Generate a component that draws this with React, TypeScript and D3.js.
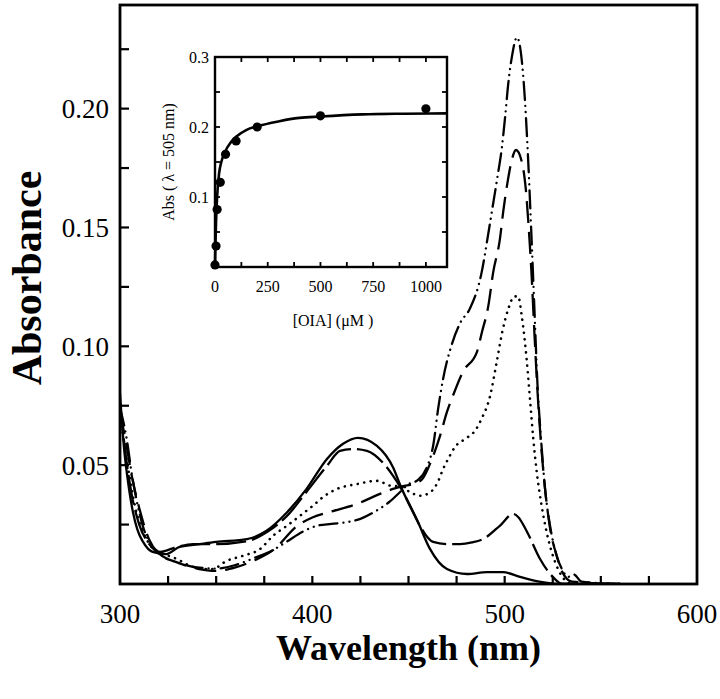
import React from 'react';
import * as d3 from 'd3';

// ---------- Main spectra (wavelength nm, absorbance) ----------
const wlSolid = [300, 302, 304, 306.8, 309, 312, 317, 324, 331, 341.6, 350, 366, 376, 387, 397, 407.6, 416, 423.7, 433.6, 442, 446, 450, 454.4, 461, 470, 480.4, 490.8, 499, 508, 518, 529, 560];
const absSolid = [0.080, 0.058, 0.044, 0.030, 0.023, 0.0177, 0.0135, 0.0126, 0.0156, 0.0168, 0.0177, 0.0189, 0.0223, 0.0303, 0.040, 0.0526, 0.059, 0.0615, 0.0581, 0.049, 0.041, 0.034, 0.027, 0.015, 0.0063, 0.0042, 0.005, 0.005, 0.003, 0.001, 0, 0];

const wlLongDash = [300, 303, 306, 310, 315, 320.8, 329.6, 338, 350, 366, 376.4, 386.8, 397.2, 407.6, 414.4, 421.2, 428.4, 436.7, 442, 445.6, 450.8, 456, 462.8, 470, 476.8, 483, 489, 497.6, 504.4, 507, 511.6, 518.4, 525, 530, 560];
const absLongDash = [0.076, 0.054, 0.038, 0.025, 0.017, 0.0135, 0.0156, 0.0168, 0.0168, 0.018, 0.0219, 0.0286, 0.039, 0.0497, 0.056, 0.0568, 0.056, 0.051, 0.0455, 0.041, 0.033, 0.0244, 0.0177, 0.0168, 0.0168, 0.0175, 0.019, 0.0246, 0.0295, 0.0282, 0.022, 0.0105, 0.003, 0, 0];

const wlDotted = [300, 302, 305, 308, 312, 316, 320.8, 329.6, 336.4, 342, 348, 355.6, 364, 372.8, 379.6, 386.8, 393.6, 400.4, 405.6, 412.8, 423, 433.6, 440.4, 445.6, 450.8, 456, 462.2, 465.5, 468, 470.6, 474.2, 479.4, 484.6, 488, 492.4, 496, 499, 502, 505, 507, 509, 511.5, 513.2, 514.9, 516.7, 519.2, 521.9, 526.2, 530, 535, 560];
const absDotted = [0.072, 0.06, 0.045, 0.032, 0.022, 0.016, 0.0134, 0.0105, 0.0077, 0.0063, 0.0063, 0.0098, 0.0119, 0.0147, 0.0203, 0.0245, 0.0287, 0.033, 0.0366, 0.040, 0.042, 0.0434, 0.0414, 0.041, 0.0387, 0.0371, 0.0392, 0.0434, 0.0484, 0.0526, 0.0577, 0.061, 0.0645, 0.0695, 0.079, 0.094, 0.107, 0.116, 0.121, 0.121, 0.112, 0.094, 0.0775, 0.061, 0.047, 0.033, 0.0215, 0.0093, 0.003, 0, 0];

const wlDash = [300, 303, 306, 310, 315, 320, 330, 340, 350, 360, 370, 380, 392, 400, 410.7, 423.2, 435.2, 442, 446, 452, 457, 462.2, 466.4, 470, 473, 478.3, 485.6, 488.2, 491.5, 494, 497.5, 499.3, 501.9, 503.6, 505.9, 508.8, 511, 512.5, 514, 515.5, 517, 519, 521, 523.5, 527, 530, 535, 560];
const absDash = [0.072, 0.06, 0.046, 0.032, 0.019, 0.013, 0.009, 0.0065, 0.0055, 0.007, 0.010, 0.0145, 0.0244, 0.028, 0.0307, 0.0337, 0.0379, 0.040, 0.041, 0.042, 0.044, 0.0526, 0.0623, 0.0724, 0.079, 0.0893, 0.0977, 0.106, 0.117, 0.131, 0.145, 0.157, 0.171, 0.178, 0.1826, 0.178, 0.166, 0.15, 0.13, 0.105, 0.082, 0.058, 0.04, 0.024, 0.012, 0.005, 0.001, 0];

const wlDashDotDot = [300, 303.5, 306, 308.7, 312, 316.5, 320, 330, 340, 350, 360, 370, 380, 387, 395, 402, 410, 418, 425, 433, 440, 446, 450, 455, 459.5, 463, 465.4, 468, 473, 477, 482, 488, 491, 493.4, 496, 498.6, 500.3, 501.8, 503.8, 506.4, 508, 510, 512, 514, 515.5, 517, 519, 521, 523.5, 527, 530, 533, 536, 540, 560];
const absDashDotDot = [0.074, 0.061, 0.047, 0.035, 0.024, 0.016, 0.013, 0.009, 0.007, 0.0065, 0.008, 0.011, 0.0145, 0.018, 0.022, 0.0244, 0.0253, 0.026, 0.0274, 0.0307, 0.0345, 0.039, 0.042, 0.0438, 0.049, 0.059, 0.0737, 0.0863, 0.102, 0.110, 0.116, 0.131, 0.145, 0.157, 0.170, 0.184, 0.197, 0.210, 0.222, 0.230, 0.226, 0.21, 0.182, 0.145, 0.115, 0.085, 0.06, 0.04, 0.025, 0.012, 0.006, 0.003, 0.004, 0.001, 0];

// ---------- Main axis ticks ----------
const xTickLabels = [300, 400, 500, 600];
const xMinorTicks = [325, 350, 375, 400, 425, 450, 475, 500, 525, 550, 575];
const yTickLabels = [0.05, 0.10, 0.15, 0.20];
const yMinorTicks = [0.025, 0.05, 0.075, 0.1, 0.125, 0.15, 0.175, 0.2, 0.225];

// ---------- Inset (binding titration) ----------
const oiaConc = [0, 5, 10, 25, 50, 100, 200, 500, 1000];
const oiaAbs = [0.003, 0.03, 0.082, 0.121, 0.161, 0.180, 0.200, 0.216, 0.226];
const fitConc = [0, 2, 5, 10, 20, 30, 50, 75, 100, 150, 200, 300, 400, 500, 700, 900, 1100];
const fitAbs = [0, 0.03, 0.065, 0.100, 0.135, 0.150, 0.166, 0.178, 0.186, 0.196, 0.201, 0.208, 0.213, 0.215, 0.218, 0.219, 0.2195];
const insetXLabels = [0, 250, 500, 750, 1000];
const insetXTicks = [125, 250, 375, 500, 625, 750, 875, 1000];
const insetYLabels = [0.1, 0.2, 0.3];
const insetYTicks = [0.05, 0.1, 0.15, 0.2, 0.25];

const FONT = "'Liberation Serif', 'Times New Roman', Times, serif";

export default function App() {
  const x = d3.scaleLinear().domain([300, 600]).range([120, 697]);
  const y = d3.scaleLinear().domain([0, 0.2436]).range([584, 5]);

  const mk = (wl: number[], ab: number[]) =>
    d3.line<number>().x((_, i) => x(wl[i])).y((d) => y(d)).curve(d3.curveMonotoneX)(ab) || '';

  const series = [
    { d: mk(wlSolid, absSolid), dash: undefined as string | undefined, cap: 'butt', w: 2.3 },
    { d: mk(wlLongDash, absLongDash), dash: '30,6', cap: 'butt', w: 2.3 },
    { d: mk(wlDotted, absDotted), dash: '0.1,6.5', cap: 'round', w: 2.6 },
    { d: mk(wlDash, absDash), dash: '22,9', cap: 'butt', w: 2.3 },
    { d: mk(wlDashDotDot, absDashDotDot), dash: '18,6,0.1,6,0.1,6', cap: 'round', w: 2.3 },
  ];

  const [X0, X1] = x.range();
  const [Y0, Y1] = y.range();

  // inset scales
  const ix = d3.scaleLinear().domain([0, 1100]).range([215, 447]);
  const iy = d3.scaleLinear().domain([0, 0.3]).range([267, 57]);
  const fitPath =
    d3.line<number>().x((_, i) => ix(fitConc[i])).y((d) => iy(d)).curve(d3.curveMonotoneX)(fitAbs) || '';
  const [IX0, IX1] = ix.range();
  const [IY0, IY1] = iy.range();

  return (
    <svg width={720} height={699} style={{ position: 'absolute', left: 0, top: 0, background: '#fff' }} fontFamily={FONT}>
      <rect x={0} y={0} width={720} height={699} fill="#fff" />
      <defs>
        <clipPath id="plotclip">
          <rect x={X0} y={Y1} width={X1 - X0} height={Y0 - Y1} />
        </clipPath>
      </defs>
      <g clipPath="url(#plotclip)">
        {series.map((s, i) => (
          <path key={i} d={s.d} fill="none" stroke="#000" strokeWidth={s.w}
            strokeDasharray={s.dash} strokeLinecap={s.cap as any} strokeLinejoin="round" />
        ))}
      </g>

      {/* frame */}
      <rect x={X0} y={Y1} width={X1 - X0} height={Y0 - Y1} fill="none" stroke="#000" strokeWidth={2.8} />

      {/* y ticks */}
      {yMinorTicks.map((t) => (
        <line key={'yt' + t} x1={X0} x2={X0 + 9} y1={y(t)} y2={y(t)} stroke="#000" strokeWidth={2.2} />
      ))}
      {yTickLabels.map((t) => (
        <text key={'yl' + t} x={109} y={y(t)} dy="0.35em" textAnchor="end" fontSize={27}>{t.toFixed(2)}</text>
      ))}
      {/* x ticks */}
      {xMinorTicks.map((t) => (
        <line key={'xt' + t} x1={x(t)} x2={x(t)} y1={Y0} y2={Y0 - 8} stroke="#000" strokeWidth={2.2} />
      ))}
      {xTickLabels.map((t) => (
        <text key={'xl' + t} x={x(t)} y={623} textAnchor="middle" fontSize={27}>{t}</text>
      ))}

      {/* axis titles */}
      <text x={(X0 + X1) / 2} y={660} textAnchor="middle" fontSize={36} fontWeight="bold">Wavelength (nm)</text>
      <text transform={`translate(41, 278) rotate(-90)`} textAnchor="middle" fontSize={42} fontWeight="bold">Absorbance</text>

      {/* ---------- inset ---------- */}
      <path d={fitPath} fill="none" stroke="#000" strokeWidth={2.6} />
      {oiaConc.map((c, i) => (
        <circle key={'pt' + i} cx={ix(c)} cy={iy(oiaAbs[i])} r={4.6} fill="#000" />
      ))}
      <rect x={IX0} y={IY1} width={IX1 - IX0} height={IY0 - IY1} fill="none" stroke="#000" strokeWidth={2.4} />
      {insetXTicks.map((t) => (
        <g key={'ixt' + t}>
          <line x1={ix(t)} x2={ix(t)} y1={IY0} y2={IY0 - 5} stroke="#000" strokeWidth={1.8} />
          <line x1={ix(t)} x2={ix(t)} y1={IY1} y2={IY1 + 5} stroke="#000" strokeWidth={1.8} />
        </g>
      ))}
      {insetYTicks.map((t) => (
        <g key={'iyt' + t}>
          <line x1={IX0} x2={IX0 + 5} y1={iy(t)} y2={iy(t)} stroke="#000" strokeWidth={1.8} />
          <line x1={IX1} x2={IX1 - 5} y1={iy(t)} y2={iy(t)} stroke="#000" strokeWidth={1.8} />
        </g>
      ))}
      {insetXLabels.map((t) => (
        <text key={'ixl' + t} x={ix(t)} y={292} textAnchor="middle" fontSize={16}>{t}</text>
      ))}
      {insetYLabels.map((t) => (
        <text key={'iyl' + t} x={209} y={iy(t)} dy="0.35em" textAnchor="end" fontSize={16}>{t.toFixed(1)}</text>
      ))}
      <text x={(IX0 + IX1) / 2 + 2} y={326} textAnchor="middle" fontSize={16}>[OIA] (μM )</text>
      <text transform={`translate(174, ${(IY0 + IY1) / 2}) rotate(-90)`} textAnchor="middle" fontSize={16}>Abs ( λ = 505 nm)</text>
    </svg>
  );
}
